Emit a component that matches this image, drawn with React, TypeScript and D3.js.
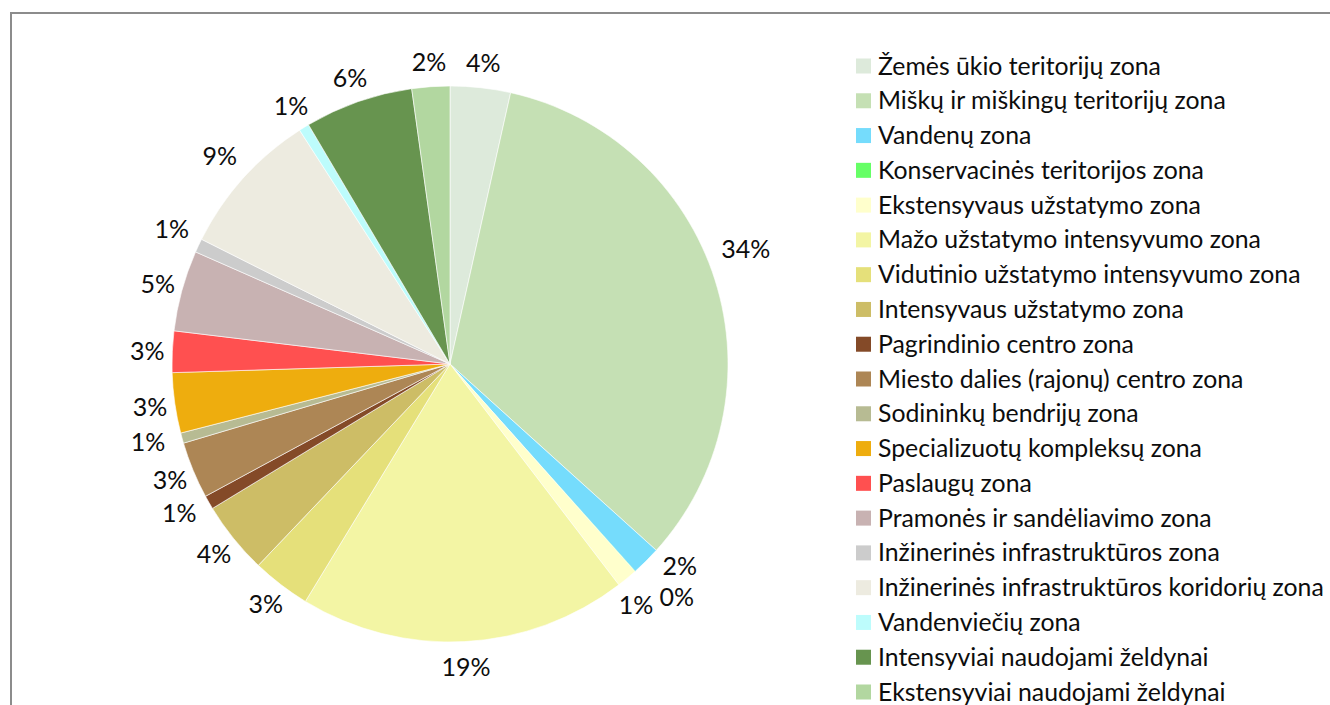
import * as d3 from 'd3';

// categories in drawing order (clockwise from 12 o'clock)
const categories = [
    "Žemės ūkio teritorijų zona",
    "Miškų ir miškingų teritorijų zona",
    "Vandenų zona",
    "Konservacinės teritorijos zona",
    "Ekstensyvaus užstatymo zona",
    "Mažo užstatymo intensyvumo zona",
    "Vidutinio užstatymo intensyvumo zona",
    "Intensyvaus užstatymo zona",
    "Pagrindinio centro zona",
    "Miesto dalies (rajonų) centro zona",
    "Sodininkų bendrijų zona",
    "Specializuotų kompleksų zona",
    "Paslaugų zona",
    "Pramonės ir sandėliavimo zona",
    "Inžinerinės infrastruktūros zona",
    "Inžinerinės infrastruktūros koridorių zona",
    "Vandenviečių zona",
    "Intensyviai naudojami želdynai",
    "Ekstensyviai naudojami želdynai",
]

// share of area, %
const values = [3.5, 33.2, 1.7, 0.02, 1.2, 19.1, 3.4, 4.2, 0.8, 3.3, 0.6, 3.5, 2.4, 4.7, 0.8, 8.5, 0.6, 6.3, 2.2]

// rounded labels as shown
const labels = ["4%", "34%", "2%", "0%", "1%", "19%", "3%", "4%", "1%", "3%", "1%", "3%", "3%", "5%", "1%", "9%", "1%", "6%", "2%"]

const colors = [
    "#ddeadb", "#c5e0b4", "#75dcfc", "#66ff66", "#ffffcc", "#f3f5a4", "#e5e07a",
    "#cdbd66", "#844a28", "#ad8655", "#b7bb93", "#eead0e", "#ff5050", "#c8b2b2",
    "#cccccc", "#edebe0", "#bdfcfc", "#67944f", "#b2d7a0",
]

// small label nudges where Excel moved labels to avoid collisions
const labelNudge: Record<number, [number, number]> = {
    1: [7, -23],
    2: [16, -13],
    3: [25, 7],
    4: [-7, 7],
    8: [-8, -2],
    10: [-10, -3],
    14: [-4, -6],
    15: [-5, -5],
}

const font = "Lato, 'Open Sans', sans-serif"

function App() {
    const cx = 450
    const cy = 364
    const radius = 278
    const labelRadius = 303

    const pie = d3.pie<number>().sort(null).value(d => d)
    const arcs = pie(values)
    const arc = d3.arc<d3.PieArcDatum<number>>().innerRadius(0).outerRadius(radius)
    const labelArc = d3.arc<d3.PieArcDatum<number>>().innerRadius(labelRadius).outerRadius(labelRadius)

    // legend
    const legendX = 856
    const legendY = d3.scalePoint<string>()
        .domain(categories)
        .range([66, 692])

    return (
        <svg width={1330} height={705} style={{ position: 'absolute', left: 0, top: 0, background: '#fff' }}>
            <rect x={11} y={13} width={1400} height={800} fill="#fff" stroke="#8c8c8c" strokeWidth={2} />
            <g transform={`translate(${cx},${cy})`}>
                {arcs.map((a, i) => (
                    <path key={i} d={arc(a)!} fill={colors[i]} stroke="#fff" strokeWidth={a.data < 0.1 ? 0 : 0.6} />
                ))}
                {arcs.map((a, i) => {
                    const [x, y] = labelArc.centroid(a)
                    const n = labelNudge[i] || [0, 0]
                    return (
                        <text key={i} x={x + n[0]} y={y + n[1] - 1} textAnchor="middle" dominantBaseline="central"
                            fontFamily={font} fontSize={25} fill="#0d0d0d">{labels[i]}</text>
                    )
                })}
            </g>
            <g>
                {categories.map((c, i) => (
                    <g key={c} transform={`translate(${legendX},${legendY(c)})`}>
                        <rect x={0} y={-7.5} width={15} height={15} fill={colors[i]} />
                        <text x={22} y={-1} dominantBaseline="central" fontFamily={font} fontSize={24.8} fill="#0d0d0d">{c}</text>
                    </g>
                ))}
            </g>
        </svg>
    )
}

export default App;
